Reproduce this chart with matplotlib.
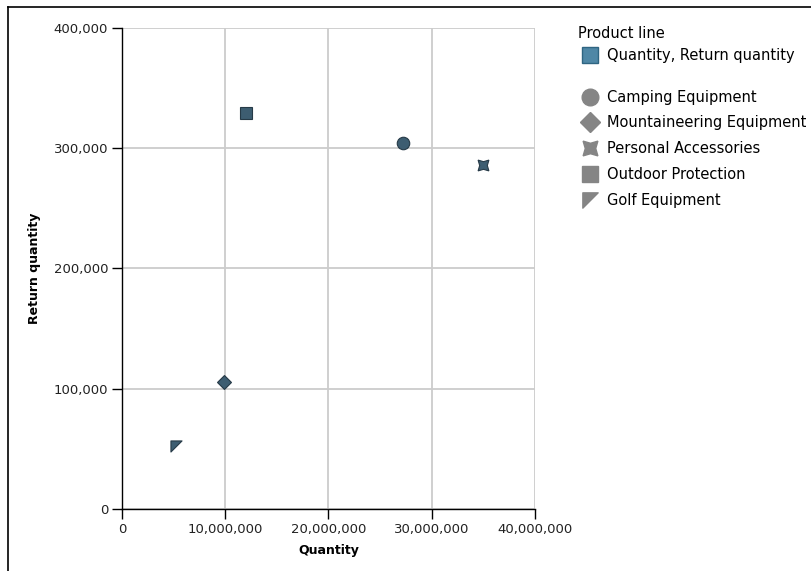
import matplotlib
matplotlib.use('Agg')

import matplotlib.pyplot as plt
from matplotlib.lines import Line2D
from matplotlib.path import Path
from matplotlib.ticker import FuncFormatter

# Product line data
product_lines = ['Camping Equipment', 'Mountaineering Equipment', 'Personal Accessories',
                 'Outdoor Protection', 'Golf Equipment']
quantity = [27200000, 9900000, 34950000, 12000000, 5250000]
return_quantity = [304000, 105500, 286000, 329000, 52500]

x_ticks = [0, 10000000, 20000000, 30000000, 40000000]
y_ticks = [0, 100000, 200000, 300000, 400000]

# Golf marker: right triangle with the corner at top-left
golf = Path([(-1, 1), (1, 1), (-1, -1), (-1, 1)],
            [Path.MOVETO, Path.LINETO, Path.LINETO, Path.CLOSEPOLY])
markers = ['o', 'D', (4, 1, 45), 's', golf]
sizes = [9, 7, 11, 9, 8]
legend_sizes = [12, 10, 15, 12, 11]

point_color = '#3d5d71'
edge_color = '#263a47'
legend_gray = '#858585'

plt.rcParams['font.family'] = 'DejaVu Sans'

fig = plt.figure(figsize=(8.11, 5.71), dpi=100)
ax = fig.add_axes([0.1504, 0.1086, 0.5093, 0.8424])

for q, r, m, s in zip(quantity, return_quantity, markers, sizes):
    ax.plot(q, r, linestyle='none', marker=m, markersize=s,
            markerfacecolor=point_color, markeredgecolor=edge_color,
            markeredgewidth=0.8, zorder=3)

ax.set_xlim(0, 40000000)
ax.set_ylim(0, 400000)
ax.set_xticks(x_ticks)
ax.set_yticks(y_ticks)
fmt = FuncFormatter(lambda v, p: f"{int(v):,}")
ax.xaxis.set_major_formatter(fmt)
ax.yaxis.set_major_formatter(fmt)
ax.tick_params(direction='out', length=7, width=1, labelsize=9.5,
               labelcolor='#222222', pad=3)

ax.grid(True, color='#cccccc', linewidth=1.3, zorder=0)
ax.set_axisbelow(True)
for side in ['top', 'right']:
    ax.spines[side].set_visible(False)
for side in ['left', 'bottom']:
    ax.spines[side].set_color('black')
    ax.spines[side].set_linewidth(1)

ax.set_xlabel('Quantity', fontsize=9, fontweight='bold', labelpad=6)
ax.set_ylabel('Return quantity', fontsize=9, fontweight='bold', labelpad=9)

# Legend: measure entry first, then product lines
measure_handle = [Line2D([], [], linestyle='none', marker='s', markersize=12,
                         markerfacecolor='#4f87a6', markeredgecolor='#2f6582')]
leg1 = fig.legend(measure_handle, ['Quantity, Return quantity'],
                  title='Product line', loc='upper left',
                  bbox_to_anchor=(0.7127, 0.955), frameon=False, fontsize=10.5,
                  title_fontsize=10.5, handlelength=1.6, handletextpad=0.4,
                  borderpad=0, borderaxespad=0)
leg1._legend_box.align = 'left'

shape_handles = [Line2D([], [], linestyle='none', marker=m, markersize=s,
                        markerfacecolor=legend_gray, markeredgecolor=legend_gray)
                 for m, s in zip(markers, legend_sizes)]
fig.legend(shape_handles, product_lines, loc='upper left',
           bbox_to_anchor=(0.7127, 0.843), frameon=False, fontsize=10.5,
           handlelength=1.6, handletextpad=0.4, labelspacing=0.74,
           borderpad=0, borderaxespad=0)

# Border lines on top and left of the image
fig.add_artist(Line2D([8 / 811, 1], [1 - 7 / 571, 1 - 7 / 571],
                      transform=fig.transFigure, color='black', linewidth=1.2))
fig.add_artist(Line2D([8 / 811, 8 / 811], [0, 1 - 7 / 571],
                      transform=fig.transFigure, color='black', linewidth=1.2))

plt.savefig('out.png', dpi=100)
